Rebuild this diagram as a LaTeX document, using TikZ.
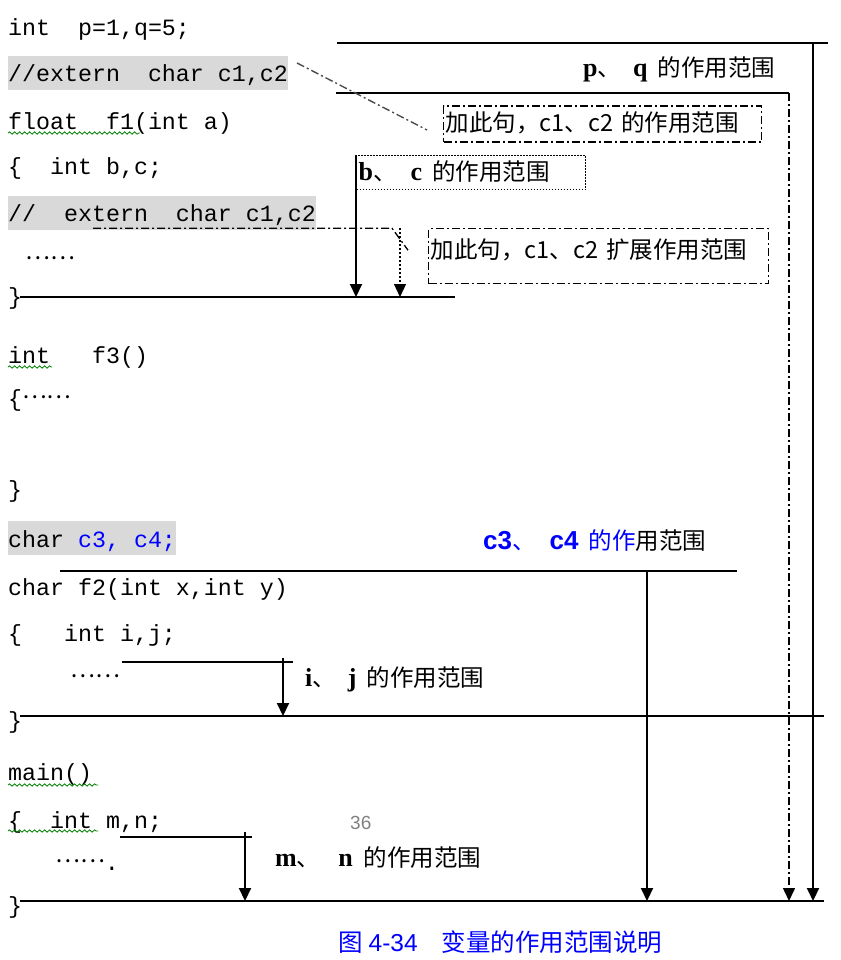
\documentclass[tikz,border=0pt]{standalone}
\usepackage{fontspec}
\setmainfont{Liberation Serif}
\setmonofont{Liberation Mono}
\newfontfamily\cjk{Noto Sans CJK SC}
\newfontfamily\arial{Liberation Sans}
\usetikzlibrary{positioning,calc,arrows.meta,decorations.pathmorphing}
\definecolor{cBlue}{HTML}{0000FF}
\definecolor{cShade}{HTML}{D9D9D9}
\definecolor{cGreen}{HTML}{008000}
\definecolor{cGrey}{HTML}{808080}
\newcommand{\bse}[1]{{\fontsize{26}{28}\rmfamily\bfseries #1}}
\newcommand{\bsf}[1]{{\fontsize{26}{28}\arial\bfseries #1}}
\tikzset{
  code/.style={anchor=base west,inner sep=0pt,font=\fontsize{23.3}{28}\ttfamily},
  shaded/.style={anchor=west,inner xsep=0pt,inner ysep=0pt,minimum height=34pt,text height=20pt,text depth=2pt,fill=cShade,font=\fontsize{23.3}{28}\ttfamily},
  lbl/.style={inner sep=0pt,text height=18pt,text depth=3pt,font=\fontsize{23.5}{28}\cjk},
  boxdd/.style={draw,line width=1.2pt,dash pattern=on 8pt off 3pt on 2pt off 3pt,align=left},
  boxdot/.style={draw,line width=1.2pt,dash pattern=on 1.5pt off 1.5pt,align=left},
  rule/.style={line width=2.4pt},
  rulethin/.style={line width=1.5pt},
  reach/.style={-{Triangle[length=13pt,width=12pt]},line width=2pt},
  dd/.style={line width=1.5pt,dash pattern=on 8pt off 3pt on 2pt off 3pt},
  squig/.style={cGreen,line width=0.8pt,decorate,decoration={snake,amplitude=1.2pt,segment length=5pt}},
}
\begin{document}
\begin{tikzpicture}[x=1pt,y=-1pt]
  \useasboundingbox (0,0) rectangle (840,960);
  % source lines
  \node[code] (lnPQ) at (8,36) {int~~p=1,q=5;};
  \node[shaded] (ext1) at (8,73) {//extern~~char c1,c2};
  \node[code] (lnF1) at (8,130) {float~~f1(int a)};
  \node[code] (lnBC) at (8,175) {\{~~int b,c;};
  \node[shaded] (ext2) at (8,212.5) {//~~extern~~char c1,c2};
  \node[code,font=\fontsize{23.5}{28}\cjk] (dotsF1) at (25,259) {……};
  \node[code] (closeF1) at (8,304) {\}};
  \node[code] (lnF3) at (8,363) {int~~~f3()};
  \node[code] (bodyF3) at (8,406) {\{\raisebox{8pt}{\cjk ……}};
  \node[code] (closeF3) at (8,497) {\}};
  \node[shaded] (ext34) at (8,538) {char \textcolor{cBlue}{c3, c4;}};
  \node[code] (lnF2) at (8,595) {char f2(int x,int y)};
  \node[code] (lnIJ) at (8,641) {\{~~~int i,j;};
  \node[code,font=\fontsize{23.5}{28}\cjk] (dotsF2) at (70,677) {……};
  \node[code] (closeF2) at (8,728) {\}};
  \node[code] (lnMain) at (8,780) {main()};
  \node[code] (lnMN) at (8,828) {\{~~int m,n;};
  \node[code,font=\fontsize{23.5}{28}\cjk] (dotsMain) at (55,862) {……\raisebox{-8pt}{\ttfamily .}};
  \node[code] (closeMain) at (8,913) {\}};
  \draw[squig] (8,133) -- (140,133);
  \draw[squig] (8,367) -- (52,367);
  \draw[squig] (8,785) -- (98,785);
  \draw[squig] (8,831) -- (98,831);

  % scope labels
  \node[lbl,anchor=west] (pqLbl) at (583,69) {\bse{p}、\hspace{12pt}\bse{q}\hspace{10pt}的作用范围};
  \node[lbl,boxdd,anchor=west,text width=314pt,inner xsep=2pt,minimum height=36pt] (add1) at (443,124) {加此句，c1、c2\hspace{8pt}的作用范围};
  \node[lbl,boxdot,anchor=north west,text width=225pt,inner xsep=2pt,minimum height=34pt] (bcBox) at (356,155) {\bse{b}、\hspace{14pt}\bse{c}\hspace{10pt}的作用范围};
  \node[lbl,boxdd,anchor=north west,text width=336pt,inner xsep=2pt,minimum height=55pt,text height=14pt,text depth=9pt] (add2) at (428,228) {加此句，c1、c2\hspace{8pt}扩展作用范围};
  \node[lbl,anchor=west] (c34Lbl) at (483,542) {\textcolor{cBlue}{\bsf{c3}、\hspace{14pt}\bsf{c4}\hspace{10pt}的作}用范围};
  \node[lbl,anchor=west] (ijLbl) at (305,679) {\bse{i}、\hspace{12pt}\bse{j}\hspace{10pt}的作用范围};
  \node[lbl,anchor=west] (mnLbl) at (275,859) {\bse{m}、\hspace{18pt}\bse{n}\hspace{11pt}的作用范围};
  \node[inner sep=0pt,anchor=west,text=cGrey,font=\fontsize{19}{22}\arial] (page) at (350,823) {36};
  \node[lbl,anchor=west,text=cBlue,font=\fontsize{24.5}{28}\cjk] (caption) at (338,944) {图\hspace{6pt}{\arial 4-34}\hspace{24pt}变量的作用范围说明};

  % scope rules
  \coordinate (pqL) at (337,43);   \coordinate (pqR) at (828,43);
  \coordinate (pqDrop) at (813,43);
  \coordinate (c12L) at (336,93);  \coordinate (c12R) at (789,93);
  \coordinate (f1L) at (20,297);   \coordinate (f1R) at (455,297);
  \coordinate (extDrop) at (400,228);
  \coordinate (c34L) at (60,571);  \coordinate (c34R) at (737,571);
  \coordinate (c34Drop) at (647,571);
  \coordinate (ijL) at (122,662);  \coordinate (ijR) at (293,662);
  \coordinate (ijDrop) at (283,658);
  \coordinate (f2L) at (20,716);   \coordinate (f2R) at (824,716);
  \coordinate (mnL) at (120,837);  \coordinate (mnR) at (252,837);
  \coordinate (mnDrop) at (245,832);
  \coordinate (mainL) at (20,901); \coordinate (mainR) at (824,901);

  \draw[rule] (pqL) -- (pqR);
  \draw[rulethin] (c12L) -- (c12R);
  \draw[rule] (f1L) -- (f1R);
  \draw[rule] (c34L) -- (c34R);
  \draw[rulethin] (ijL) -- (ijR);
  \draw[rule] (f2L) -- (f2R);
  \draw[rulethin] (mnL) -- (mnR);
  \draw[rule] (mainL) -- (mainR);

  \draw[reach] (pqDrop) -- (pqDrop |- mainL);
  \draw[reach,dd] (c12R) -- (c12R |- mainL);
  \draw[reach] (bcBox.north west) -- (bcBox.north west |- f1L);
  \draw[reach,line width=1.2pt,dash pattern=on 2pt off 2pt] (extDrop) -- (extDrop |- f1L);
  \draw[reach] (c34Drop) -- (c34Drop |- mainL);
  \draw[reach] (ijDrop) -- (ijDrop |- f2L);
  \draw[reach] (mnDrop) -- (mnDrop |- mainL);

  % pointers from the extern lines
  \draw[dd,line width=1.4pt,black!70] ([shift={(9pt,10pt)}]ext1.east) -- ([shift={(-16pt,-6pt)}]add1.west);
  \draw[dd,line width=1.3pt] ([shift={(85pt,1.5pt)}]ext2.south west) -- ++(299,0) -- ++(16,22);
\end{tikzpicture}
\end{document}
